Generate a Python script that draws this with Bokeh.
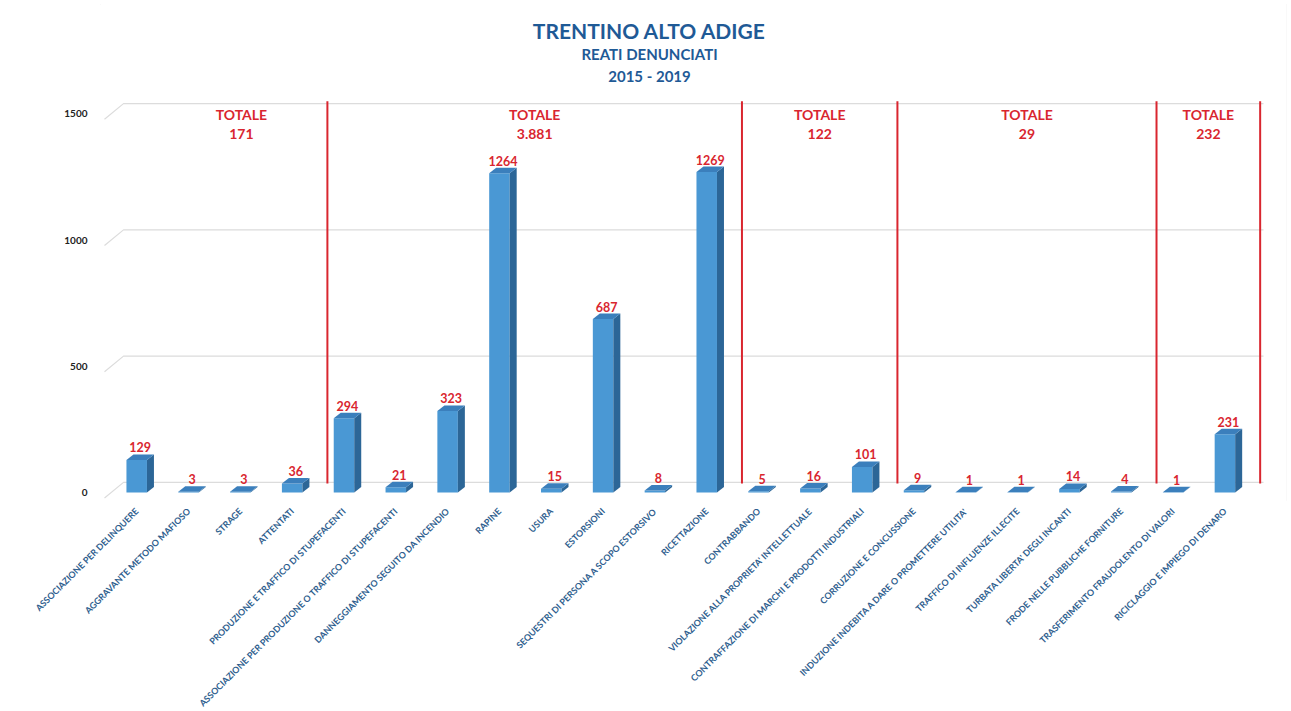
import numpy as np
from bokeh.plotting import figure
from bokeh.models import Range1d, FixedTicker
from bokeh.core.properties import value
from bokeh.embed import file_html
from bokeh.resources import INLINE

# ---------------- data ----------------
categories = [
    "ASSOCIAZIONE PER DELINQUERE",
    "AGGRAVANTE METODO MAFIOSO",
    "STRAGE",
    "ATTENTATI",
    "PRODUZIONE E TRAFFICO DI STUPEFACENTI",
    "ASSOCIAZIONE PER PRODUZIONE O TRAFFICO DI STUPEFACENTI",
    "DANNEGGIAMENTO SEGUITO DA INCENDIO",
    "RAPINE",
    "USURA",
    "ESTORSIONI",
    "SEQUESTRI DI PERSONA A SCOPO ESTORSIVO",
    "RICETTAZIONE",
    "CONTRABBANDO",
    "VIOLAZIONE ALLA PROPRIETA' INTELLETTUALE",
    "CONTRAFFAZIONE DI MARCHI E PRODOTTI INDUSTRIALI",
    "CORRUZIONE E CONCUSSIONE",
    "INDUZIONE INDEBITA A DARE O PROMETTERE UTILITA'",
    "TRAFFICO DI INFLUENZE ILLECITE",
    "TURBATA LIBERTA' DEGLI INCANTI",
    "FRODE NELLE PUBBLICHE FORNITURE",
    "TRASFERIMENTO FRAUDOLENTO DI VALORI",
    "RICICLAGGIO E IMPIEGO DI DENARO",
]
values = [129, 3, 3, 36, 294, 21, 323, 1264, 15, 687, 8, 1269,
          5, 16, 101, 9, 1, 1, 14, 4, 1, 231]
group_last_index = [3, 11, 14, 19, 21]
group_totals = ["171", "3.881", "122", "29", "232"]
y_ticks = [0, 500, 1000, 1500]

title_lines = ["TRENTINO ALTO ADIGE", "REATI DENUNCIATI", "2015 - 2019"]

# ---------------- layout constants ----------------
S = 0.2525           # px per y unit
PXX = 51.82          # px per category
FRAME_L = 100
FRAME_W = 1186
FRAME_H = 500
ZERO_PX = 492        # y pixel of value 0 (from top of canvas)
BAR0_PX = 136.2

X_START = -(BAR0_PX - FRAME_L) / PXX
X_END = X_START + FRAME_W / PXX
Y_END = ZERO_PX / S
Y_START = -(FRAME_H - ZERO_PX) / S


def dx_px(px):
    return (px - BAR0_PX) / PXX


def dy_px(py):
    return (ZERO_PX - py) / S


BW = 20.5 / PXX      # bar front width
DX = 7.0 / PXX       # bar depth (x)
DY = 5.5 / S         # bar depth (y)
BACK_DY = 40         # back wall offset (y units)
SEP_DX = 0.18        # separator offset

BLUE_FRONT = "#4A98D4"
BLUE_SIDE = "#2C6697"
BLUE_TOP = "#3B7FBC"
RED = "#D9262F"
TITLE_BLUE = "#1F5A96"
LABEL_BLUE = "#2E5E8E"
GRID = "#DCDCDC"

p = figure(
    frame_width=FRAME_W, frame_height=FRAME_H,
    x_range=Range1d(X_START, X_END), y_range=Range1d(Y_START, Y_END),
    output_backend="svg", toolbar_location=None,
    min_border_left=FRAME_L, min_border_right=5, min_border_top=0,
    min_border_bottom=211,
    background_fill_color="white", border_fill_color="white",
)
p.styles = {"outline": "1px solid #E6E6E6", "outline-offset": "-5px"}
p.outline_line_color = None
p.xgrid.visible = False
p.ygrid.visible = False

# ---------------- back wall gridlines ----------------
grid_xs, grid_ys = [], []
left_front = dx_px(104)
left_back = dx_px(123)
right_end = dx_px(1263)
for v in y_ticks:
    grid_xs.append([left_front, left_back, right_end])
    grid_ys.append([v - 22, v + BACK_DY, v + BACK_DY])
p.multi_line(xs=grid_xs, ys=grid_ys, line_color=GRID, line_width=1.2)

# ---------------- group separators ----------------
sep_x = [g + 0.5 + SEP_DX for g in group_last_index]
p.segment(x0=sep_x, y0=[36] * len(sep_x), x1=sep_x, y1=[1550] * len(sep_x),
          line_color=RED, line_width=2)

# ---------------- 3D bars ----------------
x = np.arange(len(values), dtype=float)
p.vbar(x=x, width=BW, bottom=0, top=values, fill_color=BLUE_FRONT,
       line_color=None)

side_xs, side_ys, top_xs, top_ys = [], [], [], []
for xi, v in zip(x, values):
    r = xi + BW / 2
    l = xi - BW / 2
    side_xs.append([r, r + DX, r + DX, r])
    side_ys.append([0, DY, v + DY, v])
    top_xs.append([l, l + DX, r + DX, r])
    top_ys.append([v, v + DY, v + DY, v])
p.patches(xs=side_xs, ys=side_ys, fill_color=BLUE_SIDE, line_color=None)
p.patches(xs=top_xs, ys=top_ys, fill_color=BLUE_TOP, line_color=None)

# value labels
p.text(x=x + DX / 2, y=[v + DY for v in values], text=[str(v) for v in values],
       text_align="center", text_baseline="bottom", y_offset=-2,
       text_font=value("Lato"), text_font_style="bold",
       text_font_size="12.5px", text_color=RED)

# ---------------- group totals ----------------
lefts = [0.36] + sep_x[:-1]
centers = [(a + b) / 2 for a, b in zip(lefts, sep_x)]
p.text(x=centers, y=[dy_px(114)] * len(centers), text=["TOTALE"] * len(centers),
       text_align="center", text_baseline="middle",
       text_font=value("Lato"), text_font_style="bold",
       text_font_size="14px", text_color=RED)
p.text(x=centers, y=[dy_px(133)] * len(centers), text=group_totals,
       text_align="center", text_baseline="middle",
       text_font=value("Lato"), text_font_style="bold",
       text_font_size="14px", text_color=RED)

# ---------------- titles ----------------
tx = dx_px(649)
p.text(x=[tx], y=[dy_px(30)], text=[title_lines[0]], text_align="center",
       text_baseline="middle", text_font=value("Lato"), text_font_style="bold",
       text_font_size="21px", text_color=TITLE_BLUE)
p.text(x=[tx], y=[dy_px(53)], text=[title_lines[1]], text_align="center",
       text_baseline="middle", text_font=value("Lato"), text_font_style="bold",
       text_font_size="15px", text_color=TITLE_BLUE)
p.text(x=[tx], y=[dy_px(75)], text=[title_lines[2]], text_align="center",
       text_baseline="middle", text_font=value("Lato"), text_font_style="bold",
       text_font_size="15px", text_color=TITLE_BLUE)

# ---------------- axes ----------------
p.xaxis.ticker = FixedTicker(ticks=list(range(len(categories))))
p.xaxis.major_label_overrides = {i: c for i, c in enumerate(categories)}
p.xaxis.major_label_orientation = np.pi / 4
p.xaxis.major_label_text_font = "Lato"
p.xaxis.major_label_text_font_style = "bold"
p.xaxis.major_label_text_font_size = "8.9px"
p.xaxis.major_label_text_color = LABEL_BLUE
p.xaxis.axis_line_color = None
p.xaxis.major_tick_line_color = None
p.xaxis.minor_tick_line_color = None
p.xaxis.major_label_standoff = 3

p.yaxis.ticker = FixedTicker(ticks=y_ticks)
p.yaxis.major_label_text_font = "Lato"
p.yaxis.major_label_text_font_style = "bold"
p.yaxis.major_label_text_font_size = "10px"
p.yaxis.major_label_text_color = "#222222"
p.yaxis.axis_line_color = None
p.yaxis.major_tick_line_color = None
p.yaxis.minor_tick_line_color = None
p.yaxis.major_label_standoff = 7

open("out.html", "w").write(file_html(p, INLINE))
